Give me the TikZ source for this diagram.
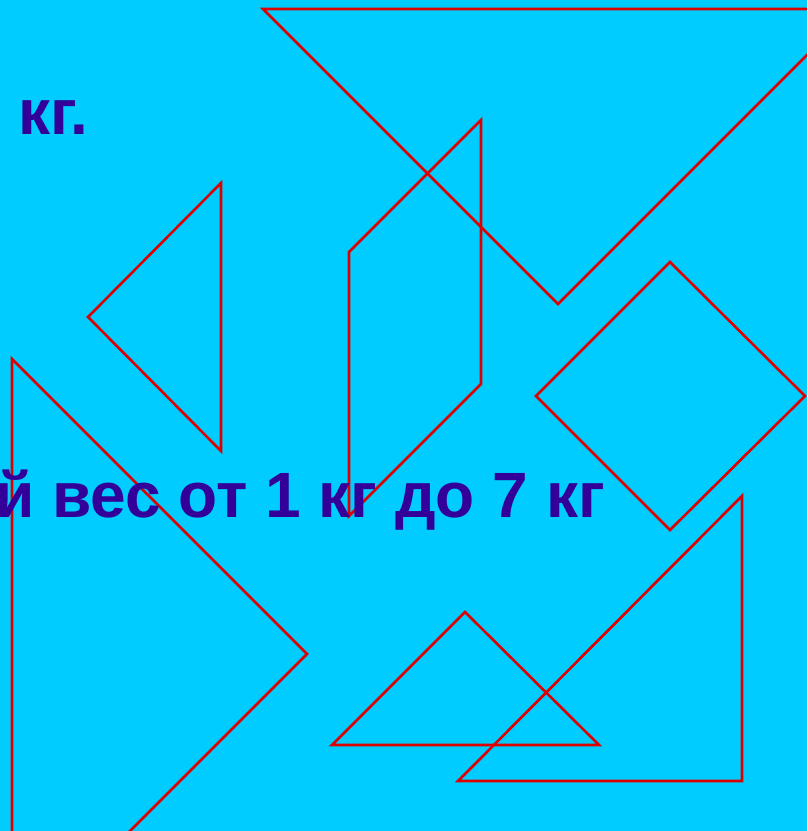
\documentclass[tikz,border=0pt]{standalone}
\usepackage{fontspec}
\setmainfont{Liberation Sans}
\definecolor{bgblue}{HTML}{00CCFF}
\definecolor{txtviolet}{HTML}{330099}
\definecolor{linered}{HTML}{DD0000}
\begin{document}
\begin{tikzpicture}[x=1pt,y=-1pt,
  piece/.style={draw=linered,line width=2.6pt,line join=miter},
  label/.style={text=txtviolet,font=\bfseries\fontsize{64}{70}\selectfont,inner sep=0pt}]
\useasboundingbox (0,0) rectangle (807,831);
\fill[bgblue] (0,0) rectangle (807,831);
\clip (0,0) rectangle (807,831);
% tangram pieces
\draw[piece] (263,9) -- (853,9) -- (558,304) -- cycle;
\draw[piece] (349,252) -- (481,120) -- (481,384) -- (349,516) -- cycle;
\draw[piece] (221,183) -- (88,317) -- (221,451) -- cycle;
\draw[piece] (12,359) -- (307,654) -- (12,949) -- cycle;
\draw[piece] (670,262) -- (805,396) -- (670,530) -- (536,396) -- cycle;
\draw[piece] (465,612) -- (599,745) -- (332,745) -- cycle;
\draw[piece] (742,496) -- (742,781) -- (458,781) -- cycle;
% texts
\node[label,anchor=base west] (t1) at (18,134) {кг.};
\node[label,anchor=base east] (t2) at (605,517) {й вес от 1 кг до 7 кг};
\end{tikzpicture}
\end{document}
